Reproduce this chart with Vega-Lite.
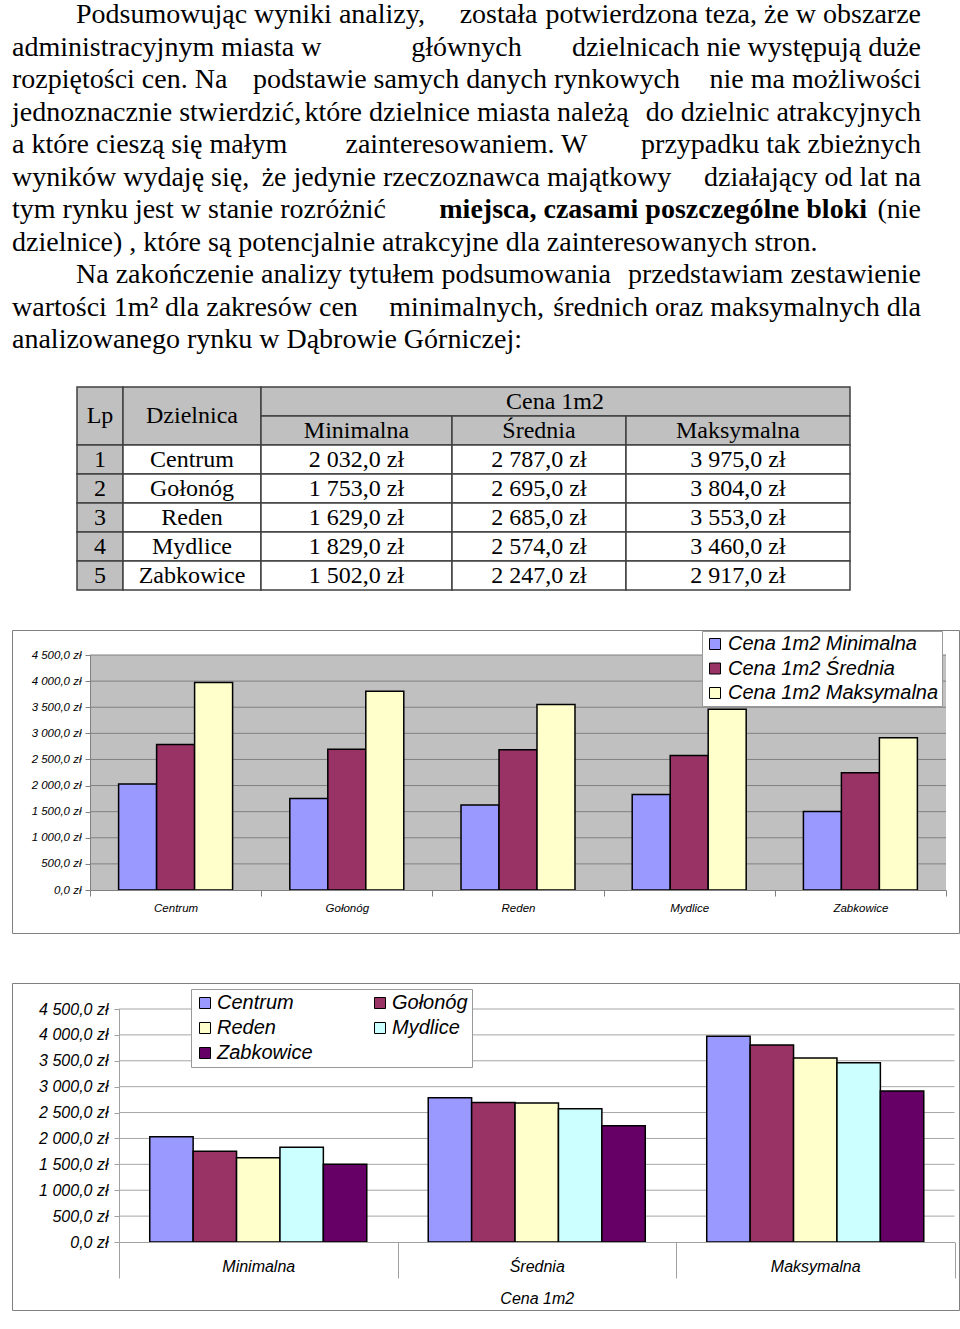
{
  "$schema": "https://vega.github.io/schema/vega-lite/v6.json",
  "background": "white",
  "padding": {"left": 11, "top": 0, "right": 0, "bottom": 0},
  "bounds": "flush",
  "spacing": 50,
  "resolve": {"scale": {"color": "independent", "xOffset": "independent"}, "legend": {"color": "independent"}},
  "config": {"view": {"stroke": null}, "axis": {"labelOverlap": false}},
  "datasets": {
    "ceny": [
      {"lp": 1, "dzielnica": "Centrum", "typ": "Minimalna", "cena": 2032},
      {"lp": 1, "dzielnica": "Centrum", "typ": "Średnia", "cena": 2787},
      {"lp": 1, "dzielnica": "Centrum", "typ": "Maksymalna", "cena": 3975},
      {"lp": 2, "dzielnica": "Gołonóg", "typ": "Minimalna", "cena": 1753},
      {"lp": 2, "dzielnica": "Gołonóg", "typ": "Średnia", "cena": 2695},
      {"lp": 2, "dzielnica": "Gołonóg", "typ": "Maksymalna", "cena": 3804},
      {"lp": 3, "dzielnica": "Reden", "typ": "Minimalna", "cena": 1629},
      {"lp": 3, "dzielnica": "Reden", "typ": "Średnia", "cena": 2685},
      {"lp": 3, "dzielnica": "Reden", "typ": "Maksymalna", "cena": 3553},
      {"lp": 4, "dzielnica": "Mydlice", "typ": "Minimalna", "cena": 1829},
      {"lp": 4, "dzielnica": "Mydlice", "typ": "Średnia", "cena": 2574},
      {"lp": 4, "dzielnica": "Mydlice", "typ": "Maksymalna", "cena": 3460},
      {"lp": 5, "dzielnica": "Zabkowice", "typ": "Minimalna", "cena": 1502},
      {"lp": 5, "dzielnica": "Zabkowice", "typ": "Średnia", "cena": 2247},
      {"lp": 5, "dzielnica": "Zabkowice", "typ": "Maksymalna", "cena": 2917}
    ],
    "naglowki": [
      {"tekst": "Lp", "c0": 0, "c1": 1, "r0": 0, "r1": 2},
      {"tekst": "Dzielnica", "c0": 1, "c1": 2, "r0": 0, "r1": 2},
      {"tekst": "Cena 1m2", "c0": 2, "c1": 5, "r0": 0, "r1": 1},
      {"tekst": "Minimalna", "c0": 2, "c1": 3, "r0": 1, "r1": 2},
      {"tekst": "Średnia", "c0": 3, "c1": 4, "r0": 1, "r1": 2},
      {"tekst": "Maksymalna", "c0": 4, "c1": 5, "r0": 1, "r1": 2}
    ],
    "siatka": [
      {"v": 500}, {"v": 1000}, {"v": 1500}, {"v": 2000}, {"v": 2500},
      {"v": 3000}, {"v": 3500}, {"v": 4000}, {"v": 4500}
    ],
    "tekst": [
      {"linia": 1, "lewa": "Podsumowując wyniki analizy,", "srodek": "została", "prawa": "potwierdzona teza, że w obszarze"},
      {"linia": 2, "lewa": "administracyjnym miasta w", "srodek": "głównych", "prawa": "dzielnicach nie występują duże"},
      {"linia": 3, "lewa": "rozpiętości cen. Na", "srodek": "podstawie samych danych rynkowych", "prawa": "nie ma możliwości"},
      {"linia": 4, "lewa": "jednoznacznie stwierdzić,", "srodek": "które dzielnice miasta należą", "prawa": "do dzielnic atrakcyjnych"},
      {"linia": 5, "lewa": "a które cieszą się małym", "srodek": "zainteresowaniem. W", "prawa": "przypadku tak zbieżnych"},
      {"linia": 6, "lewa": "wyników wydaję się,", "srodek": "że jedynie rzeczoznawca majątkowy", "prawa": "działający od lat na"},
      {"linia": 7, "lewa": "tym rynku jest w stanie rozróżnić", "srodek": "miejsca, czasami poszczególne bloki", "prawa": "(nie"},
      {"linia": 8, "lewa": "dzielnice) , które są potencjalnie atrakcyjne dla zainteresowanych stron.", "srodek": "", "prawa": ""},
      {"linia": 9, "lewa": "Na zakończenie analizy tytułem podsumowania", "srodek": "", "prawa": "przedstawiam zestawienie"},
      {"linia": 10, "lewa": "wartości 1m² dla zakresów cen", "srodek": "minimalnych,", "prawa": "średnich oraz maksymalnych dla"},
      {"linia": 11, "lewa": "analizowanego rynku w Dąbrowie Górniczej:", "srodek": "", "prawa": ""}
    ]
  },
  "vconcat": [
    {
      "width": 947,
      "height": 320,
      "data": {"name": "tekst"},
      "encoding": {
        "y": {"field": "linia", "type": "quantitative", "scale": {"domain": [1, 11], "range": [23, 348], "zero": false, "nice": false}, "axis": null}
      },
      "layer": [
        {
          "transform": [{"filter": "datum.linia != 1 && datum.linia != 9"}],
          "mark": {"type": "text", "align": "left", "baseline": "alphabetic", "font": "Liberation Serif", "fontSize": 28, "color": "#000"},
          "encoding": {
            "x": {"datum": "L", "type": "nominal", "scale": {"type": "point", "domain": ["L", "M", "R"], "range": [0, 909], "padding": 0}, "axis": null},
            "text": {"field": "lewa"}
          }
        },
        {
          "transform": [{"filter": "datum.linia == 1 || datum.linia == 9"}],
          "mark": {"type": "text", "align": "left", "baseline": "alphabetic", "font": "Liberation Serif", "fontSize": 28, "color": "#000", "dx": 64},
          "encoding": {
            "x": {"datum": "L", "type": "nominal", "scale": {"type": "point", "domain": ["L", "M", "R"], "range": [0, 909], "padding": 0}, "axis": null},
            "text": {"field": "lewa"}
          }
        },
        {
          "transform": [{"filter": "datum.linia != 1 && datum.linia != 9 && datum.linia != 7"}],
          "mark": {"type": "text", "align": "center", "baseline": "alphabetic", "font": "Liberation Serif", "fontSize": 28, "color": "#000"},
          "encoding": {
            "x": {"datum": "M", "type": "nominal", "scale": {"type": "point", "domain": ["L", "M", "R"], "range": [0, 909], "padding": 0}, "axis": null},
            "text": {"field": "srodek"}
          }
        },
        {
          "transform": [{"filter": "datum.linia == 1 || datum.linia == 9"}],
          "mark": {"type": "text", "align": "center", "baseline": "alphabetic", "font": "Liberation Serif", "fontSize": 28, "color": "#000", "dx": 32},
          "encoding": {
            "x": {"datum": "M", "type": "nominal", "scale": {"type": "point", "domain": ["L", "M", "R"], "range": [0, 909], "padding": 0}, "axis": null},
            "text": {"field": "srodek"}
          }
        },
        {
          "transform": [{"filter": "datum.linia == 7"}],
          "mark": {"type": "text", "align": "right", "baseline": "alphabetic", "font": "Liberation Serif", "fontSize": 28, "fontWeight": "bold", "color": "#000", "dx": -54},
          "encoding": {
            "x": {"datum": "R", "type": "nominal", "scale": {"type": "point", "domain": ["L", "M", "R"], "range": [0, 909], "padding": 0}, "axis": null},
            "text": {"field": "srodek"}
          }
        },
        {
          "mark": {"type": "text", "align": "right", "baseline": "alphabetic", "font": "Liberation Serif", "fontSize": 28, "color": "#000"},
          "encoding": {
            "x": {"datum": "R", "type": "nominal", "scale": {"type": "point", "domain": ["L", "M", "R"], "range": [0, 909], "padding": 0}, "axis": null},
            "text": {"field": "prawa"}
          }
        }
      ]
    },
    {
      "width": 947,
      "height": 210,
      "layer": [
        {
          "data": {"name": "naglowki"},
          "mark": {"type": "rect", "fill": "#c0c0c0", "stroke": "#404040", "strokeWidth": 1.5},
          "encoding": {
            "x": {"field": "c0", "type": "quantitative", "scale": {"type": "linear", "domain": [0, 1, 2, 3, 4, 5], "range": [65, 111, 249, 440, 614, 838], "zero": false, "nice": false}, "axis": null},
            "x2": {"field": "c1"},
            "y": {"field": "r0", "type": "quantitative", "scale": {"domain": [0, 7], "range": [17, 220], "zero": false, "nice": false}, "axis": null},
            "y2": {"field": "r1"}
          }
        },
        {
          "data": {"name": "naglowki"},
          "transform": [
            {"filter": "datum.c1 - datum.c0 == 1"},
            {"calculate": "(datum.c0 + datum.c1) / 2", "as": "xm"},
            {"calculate": "(datum.r0 + datum.r1) / 2", "as": "ym"}
          ],
          "mark": {"type": "text", "align": "center", "baseline": "middle", "font": "Liberation Serif", "fontSize": 24, "color": "#000"},
          "encoding": {
            "x": {"field": "xm", "type": "quantitative", "scale": {"type": "linear", "domain": [0, 1, 2, 3, 4, 5], "range": [65, 111, 249, 440, 614, 838], "zero": false, "nice": false}, "axis": null},
            "y": {"field": "ym", "type": "quantitative", "scale": {"domain": [0, 7], "range": [17, 220], "zero": false, "nice": false}, "axis": null},
            "text": {"field": "tekst"}
          }
        },
        {
          "data": {"name": "naglowki"},
          "transform": [
            {"filter": "datum.c1 - datum.c0 > 1"},
            {"calculate": "(datum.c0 + datum.c1) / 2", "as": "xm"},
            {"calculate": "(datum.r0 + datum.r1) / 2", "as": "ym"}
          ],
          "mark": {"type": "text", "align": "center", "baseline": "middle", "font": "Liberation Serif", "fontSize": 24, "color": "#000", "dx": 16},
          "encoding": {
            "x": {"field": "xm", "type": "quantitative", "scale": {"type": "linear", "domain": [0, 1, 2, 3, 4, 5], "range": [65, 111, 249, 440, 614, 838], "zero": false, "nice": false}, "axis": null},
            "y": {"field": "ym", "type": "quantitative", "scale": {"domain": [0, 7], "range": [17, 220], "zero": false, "nice": false}, "axis": null},
            "text": {"field": "tekst"}
          }
        },
        {
          "data": {"name": "ceny"},
          "transform": [
            {"filter": "datum.typ == 'Minimalna'"},
            {"calculate": "datum.lp + 1", "as": "w0"},
            {"calculate": "datum.lp + 2", "as": "w1"}
          ],
          "mark": {"type": "rect", "fill": "#c0c0c0", "stroke": "#404040", "strokeWidth": 1.5},
          "encoding": {
            "x": {"datum": 0, "type": "quantitative", "scale": {"type": "linear", "domain": [0, 1, 2, 3, 4, 5], "range": [65, 111, 249, 440, 614, 838], "zero": false, "nice": false}, "axis": null},
            "x2": {"datum": 1},
            "y": {"field": "w0", "type": "quantitative", "scale": {"domain": [0, 7], "range": [17, 220], "zero": false, "nice": false}, "axis": null},
            "y2": {"field": "w1"}
          }
        },
        {
          "data": {"name": "ceny"},
          "transform": [
            {"filter": "datum.typ == 'Minimalna'"},
            {"calculate": "datum.lp + 1", "as": "w0"},
            {"calculate": "datum.lp + 2", "as": "w1"}
          ],
          "mark": {"type": "rect", "fill": "#ffffff", "stroke": "#404040", "strokeWidth": 1.5},
          "encoding": {
            "x": {"datum": 1, "type": "quantitative", "scale": {"type": "linear", "domain": [0, 1, 2, 3, 4, 5], "range": [65, 111, 249, 440, 614, 838], "zero": false, "nice": false}, "axis": null},
            "x2": {"datum": 2},
            "y": {"field": "w0", "type": "quantitative", "scale": {"domain": [0, 7], "range": [17, 220], "zero": false, "nice": false}, "axis": null},
            "y2": {"field": "w1"}
          }
        },
        {
          "data": {"name": "ceny"},
          "transform": [
            {"calculate": "indexof(['Minimalna', 'Średnia', 'Maksymalna'], datum.typ) + 2", "as": "k0"},
            {"calculate": "datum.k0 + 1", "as": "k1"},
            {"calculate": "datum.lp + 1", "as": "w0"},
            {"calculate": "datum.lp + 2", "as": "w1"}
          ],
          "mark": {"type": "rect", "fill": "#ffffff", "stroke": "#404040", "strokeWidth": 1.5},
          "encoding": {
            "x": {"field": "k0", "type": "quantitative", "scale": {"type": "linear", "domain": [0, 1, 2, 3, 4, 5], "range": [65, 111, 249, 440, 614, 838], "zero": false, "nice": false}, "axis": null},
            "x2": {"field": "k1"},
            "y": {"field": "w0", "type": "quantitative", "scale": {"domain": [0, 7], "range": [17, 220], "zero": false, "nice": false}, "axis": null},
            "y2": {"field": "w1"}
          }
        },
        {
          "data": {"name": "ceny"},
          "transform": [
            {"filter": "datum.typ == 'Minimalna'"},
            {"calculate": "datum.lp + 1.5", "as": "wm"}
          ],
          "mark": {"type": "text", "align": "center", "baseline": "middle", "font": "Liberation Serif", "fontSize": 24, "color": "#000"},
          "encoding": {
            "x": {"datum": 0.5, "type": "quantitative", "scale": {"type": "linear", "domain": [0, 1, 2, 3, 4, 5], "range": [65, 111, 249, 440, 614, 838], "zero": false, "nice": false}, "axis": null},
            "y": {"field": "wm", "type": "quantitative", "scale": {"domain": [0, 7], "range": [17, 220], "zero": false, "nice": false}, "axis": null},
            "text": {"field": "lp"}
          }
        },
        {
          "data": {"name": "ceny"},
          "transform": [
            {"filter": "datum.typ == 'Minimalna'"},
            {"calculate": "datum.lp + 1.5", "as": "wm"}
          ],
          "mark": {"type": "text", "align": "center", "baseline": "middle", "font": "Liberation Serif", "fontSize": 24, "color": "#000"},
          "encoding": {
            "x": {"datum": 1.5, "type": "quantitative", "scale": {"type": "linear", "domain": [0, 1, 2, 3, 4, 5], "range": [65, 111, 249, 440, 614, 838], "zero": false, "nice": false}, "axis": null},
            "y": {"field": "wm", "type": "quantitative", "scale": {"domain": [0, 7], "range": [17, 220], "zero": false, "nice": false}, "axis": null},
            "text": {"field": "dzielnica"}
          }
        },
        {
          "data": {"name": "ceny"},
          "transform": [
            {"calculate": "indexof(['Minimalna', 'Średnia', 'Maksymalna'], datum.typ) + 2.5", "as": "km"},
            {"calculate": "datum.lp + 1.5", "as": "wm"},
            {"calculate": "replace(replace(format(datum.cena, ',.1f'), ',', ' '), '.', ',') + ' zł'", "as": "etykieta"}
          ],
          "mark": {"type": "text", "align": "center", "baseline": "middle", "font": "Liberation Serif", "fontSize": 24, "color": "#000"},
          "encoding": {
            "x": {"field": "km", "type": "quantitative", "scale": {"type": "linear", "domain": [0, 1, 2, 3, 4, 5], "range": [65, 111, 249, 440, 614, 838], "zero": false, "nice": false}, "axis": null},
            "y": {"field": "wm", "type": "quantitative", "scale": {"domain": [0, 7], "range": [17, 220], "zero": false, "nice": false}, "axis": null},
            "text": {"field": "etykieta"}
          }
        }
      ]
    },
    {
      "width": 947,
      "height": 303,
      "view": {"stroke": "#808080", "strokeWidth": 1},
      "resolve": {"scale": {"x": "independent"}},
      "layer": [
        {
          "data": {"values": [{}]},
          "mark": {"type": "rect", "fill": "#c0c0c0"},
          "encoding": {
            "x": {"datum": 0, "type": "quantitative", "scale": {"domain": [0, 1], "range": [78, 934], "zero": false, "nice": false}, "axis": null},
            "x2": {"datum": 1},
            "y": {
              "datum": 0, "type": "quantitative",
              "scale": {"domain": [0, 4500], "range": [260, 25], "zero": false, "nice": false},
              "axis": {"orient": "left", "offset": -78, "zindex": 1, "title": null, "grid": false, "labelOverlap": false, "tickCount": 10, "values": [0, 500, 1000, 1500, 2000, 2500, 3000, 3500, 4000, 4500], "labelExpr": "replace(replace(format(datum.value, ',.1f'), ',', ' '), '.', ',') + ' zł'", "domainColor": "#808080", "tickColor": "#808080", "tickSize": 5, "labelFont": "Liberation Sans", "labelFontStyle": "italic", "labelFontSize": 11.5, "labelColor": "#000", "labelPadding": 4}
            },
            "y2": {"datum": 4500}
          }
        },
        {
          "data": {"name": "siatka"},
          "mark": {"type": "rule", "color": "#808080", "strokeWidth": 1},
          "encoding": {
            "x": {"datum": 0, "type": "quantitative", "scale": {"domain": [0, 1], "range": [78, 934], "zero": false, "nice": false}, "axis": null},
            "x2": {"datum": 1},
            "y": {
              "field": "v", "type": "quantitative",
              "scale": {"domain": [0, 4500], "range": [260, 25], "zero": false, "nice": false},
              "axis": {"orient": "left", "offset": -78, "zindex": 1, "title": null, "grid": false, "labelOverlap": false, "tickCount": 10, "values": [0, 500, 1000, 1500, 2000, 2500, 3000, 3500, 4000, 4500], "labelExpr": "replace(replace(format(datum.value, ',.1f'), ',', ' '), '.', ',') + ' zł'", "domainColor": "#808080", "tickColor": "#808080", "tickSize": 5, "labelFont": "Liberation Sans", "labelFontStyle": "italic", "labelFontSize": 11.5, "labelColor": "#000", "labelPadding": 4}
            }
          }
        },
        {
          "data": {"name": "ceny"},
          "mark": {"type": "bar", "stroke": "#000", "strokeWidth": 1.5},
          "encoding": {
            "x": {
              "field": "dzielnica", "type": "nominal",
              "scale": {"domain": ["Centrum", "Gołonóg", "Reden", "Mydlice", "Zabkowice"], "range": [78, 934], "paddingInner": 0, "paddingOuter": 0},
              "axis": {"orient": "bottom", "offset": -43, "zindex": 1, "title": null, "labelAngle": 0, "tickBand": "extent", "tickSize": 6, "tickColor": "#808080", "domainColor": "#808080", "labelFont": "Liberation Sans", "labelFontStyle": "italic", "labelFontSize": 11.5, "labelColor": "#000", "labelPadding": 6}
            },
            "xOffset": {"field": "typ", "type": "nominal", "scale": {"domain": ["Minimalna", "Średnia", "Maksymalna"], "paddingInner": 0, "paddingOuter": 0.753}},
            "y": {
              "field": "cena", "type": "quantitative",
              "scale": {"domain": [0, 4500], "range": [260, 25], "zero": false, "nice": false},
              "axis": {"orient": "left", "offset": -78, "zindex": 1, "title": null, "grid": false, "labelOverlap": false, "tickCount": 10, "values": [0, 500, 1000, 1500, 2000, 2500, 3000, 3500, 4000, 4500], "labelExpr": "replace(replace(format(datum.value, ',.1f'), ',', ' '), '.', ',') + ' zł'", "domainColor": "#808080", "tickColor": "#808080", "tickSize": 5, "labelFont": "Liberation Sans", "labelFontStyle": "italic", "labelFontSize": 11.5, "labelColor": "#000", "labelPadding": 4}
            },
            "color": {
              "field": "typ", "type": "nominal",
              "scale": {"domain": ["Minimalna", "Średnia", "Maksymalna"], "range": ["#9999ff", "#993366", "#ffffcc"]},
              "legend": {"title": null, "orient": "none", "legendX": 690, "legendY": 1, "direction": "vertical", "padding": 3, "fillColor": "#ffffff", "strokeColor": "#999999", "symbolType": "square", "symbolSize": 121, "symbolStrokeColor": "#000", "symbolStrokeWidth": 1, "labelFont": "Liberation Sans", "labelFontStyle": "italic", "labelFontSize": 20, "labelColor": "#000", "labelOffset": 3, "rowPadding": 4.5, "labelLimit": 400, "labelExpr": "'Cena 1m2 ' + datum.label"}
            }
          }
        }
      ]
    },
    {
      "width": 947,
      "height": 327,
      "view": {"stroke": "#808080", "strokeWidth": 1},
      "resolve": {"scale": {"x": "independent"}},
      "layer": [
        {
          "data": {"name": "siatka"},
          "mark": {"type": "rule", "color": "#a6a6a6", "strokeWidth": 1},
          "encoding": {
            "x": {"datum": 0, "type": "quantitative", "scale": {"domain": [0, 1], "range": [107, 942.5], "zero": false, "nice": false}, "axis": null},
            "x2": {"datum": 1},
            "y": {
              "field": "v", "type": "quantitative",
              "scale": {"domain": [0, 4500], "range": [259, 26], "zero": false, "nice": false},
              "axis": {"orient": "left", "offset": -107, "zindex": 1, "title": null, "grid": false, "labelOverlap": false, "tickCount": 10, "values": [0, 500, 1000, 1500, 2000, 2500, 3000, 3500, 4000, 4500], "labelExpr": "replace(replace(format(datum.value, ',.1f'), ',', ' '), '.', ',') + ' zł'", "domainColor": "#a0a0a0", "tickColor": "#a0a0a0", "tickSize": 5, "labelFont": "Liberation Sans", "labelFontStyle": "italic", "labelFontSize": 16, "labelColor": "#000", "labelPadding": 6}
            }
          }
        },
        {
          "data": {"name": "ceny"},
          "mark": {"type": "bar", "stroke": "#000", "strokeWidth": 1.5},
          "encoding": {
            "x": {
              "field": "typ", "type": "nominal",
              "scale": {"domain": ["Minimalna", "Średnia", "Maksymalna"], "range": [107, 942.5], "paddingInner": 0, "paddingOuter": 0},
              "axis": {"orient": "bottom", "offset": -68, "zindex": 1, "title": "Cena 1m2", "titleFont": "Liberation Sans", "titleFontStyle": "italic", "titleFontWeight": "normal", "titleFontSize": 16, "titleColor": "#000", "titlePadding": 12, "labelAngle": 0, "tickBand": "extent", "tickSize": 36, "tickColor": "#a0a0a0", "domainColor": "#a0a0a0", "labelFont": "Liberation Sans", "labelFontStyle": "italic", "labelFontSize": 16, "labelColor": "#000", "labelPadding": -20}
            },
            "xOffset": {"field": "dzielnica", "type": "nominal", "scale": {"domain": ["Centrum", "Gołonóg", "Reden", "Mydlice", "Zabkowice"], "paddingInner": 0, "paddingOuter": 0.708}},
            "y": {
              "field": "cena", "type": "quantitative",
              "scale": {"domain": [0, 4500], "range": [259, 26], "zero": false, "nice": false},
              "axis": {"orient": "left", "offset": -107, "zindex": 1, "title": null, "grid": false, "labelOverlap": false, "tickCount": 10, "values": [0, 500, 1000, 1500, 2000, 2500, 3000, 3500, 4000, 4500], "labelExpr": "replace(replace(format(datum.value, ',.1f'), ',', ' '), '.', ',') + ' zł'", "domainColor": "#a0a0a0", "tickColor": "#a0a0a0", "tickSize": 5, "labelFont": "Liberation Sans", "labelFontStyle": "italic", "labelFontSize": 16, "labelColor": "#000", "labelPadding": 6}
            },
            "color": {
              "field": "dzielnica", "type": "nominal",
              "scale": {"domain": ["Centrum", "Gołonóg", "Reden", "Mydlice", "Zabkowice"], "range": ["#9999ff", "#993366", "#ffffcc", "#ccffff", "#660066"]},
              "legend": {"title": null, "orient": "none", "legendX": 179, "legendY": 6, "columns": 2, "direction": "horizontal", "gridAlign": "all", "columnPadding": 57, "rowPadding": 5, "padding": 4, "fillColor": "#ffffff", "strokeColor": "#999999", "symbolType": "square", "symbolSize": 121, "symbolStrokeColor": "#000", "symbolStrokeWidth": 1, "labelFont": "Liberation Sans", "labelFontStyle": "italic", "labelFontSize": 20, "labelColor": "#000", "labelOffset": 2, "labelLimit": 300}
            }
          }
        }
      ]
    }
  ]
}
